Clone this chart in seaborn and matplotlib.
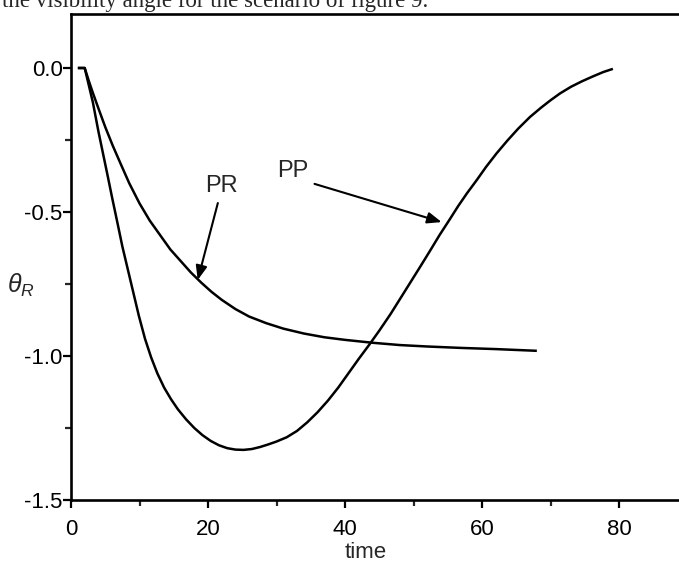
import numpy as np
import pandas as pd
import matplotlib
matplotlib.use("Agg")
import matplotlib.pyplot as plt
import seaborn as sns
from matplotlib.ticker import FixedLocator, FuncFormatter

# ---- data ----
pr_time = [1.0, 2.0, 2.6, 3.2, 4.0, 5.0, 6.1, 7.2, 8.5, 10.0, 11.5, 13.0,
           14.5, 16.0, 17.5, 19.0, 20.5, 22.0, 24.0, 26.0, 28.5, 31.0, 34.0,
           37.0, 40.0, 44.0, 48.0, 52.0, 57.0, 62.0, 68.0]
pr_theta = [0.0, 0.0, -0.045, -0.087, -0.14, -0.205, -0.27, -0.33, -0.40,
            -0.47, -0.53, -0.58, -0.63, -0.67, -0.71, -0.745, -0.777, -0.805,
            -0.837, -0.863, -0.886, -0.905, -0.922, -0.935, -0.944, -0.954,
            -0.962, -0.967, -0.972, -0.976, -0.982]

pp_time = [1.0, 2.0, 2.6, 3.2, 4.0, 4.7, 5.4, 6.0, 6.8, 7.5, 8.3, 9.0, 9.9,
           10.8, 11.7, 12.6, 13.6, 14.6, 15.6, 16.8, 18.0, 19.2, 20.4, 21.6,
           22.8, 24.0, 25.2, 26.4, 27.6, 28.8, 30.0, 31.5, 33.0, 34.5, 36.0,
           37.5, 39.0, 40.5, 42.0, 43.5, 45.0, 46.6, 48.0, 49.5, 51.0, 52.4,
           53.8, 55.3, 56.5, 57.8, 59.2, 60.6, 62.1, 63.7, 65.3, 67.0, 68.6,
           70.0, 71.4, 73.0, 74.6, 76.2, 77.7, 79.1]
pp_theta = [0.0, 0.0, -0.06, -0.12, -0.22, -0.30, -0.38, -0.45, -0.54, -0.62,
            -0.70, -0.77, -0.86, -0.94, -1.005, -1.06, -1.11, -1.15, -1.185,
            -1.22, -1.25, -1.275, -1.295, -1.31, -1.32, -1.325, -1.326,
            -1.323, -1.316, -1.307, -1.297, -1.282, -1.26, -1.23, -1.195,
            -1.155, -1.11, -1.06, -1.01, -0.962, -0.912, -0.856, -0.803,
            -0.746, -0.689, -0.635, -0.58, -0.525, -0.48, -0.435, -0.39,
            -0.343, -0.297, -0.252, -0.21, -0.17, -0.138, -0.112, -0.088,
            -0.065, -0.046, -0.029, -0.014, -0.003]

x_major = [0, 20, 40, 60, 80]
x_minor = [10, 30, 50, 70]
y_major = [0.0, -0.5, -1.0, -1.5]
y_minor = [-0.25, -0.75, -1.25]

df = pd.concat([
    pd.DataFrame({"time": pr_time, "theta": pr_theta, "curve": "PR"}),
    pd.DataFrame({"time": pp_time, "theta": pp_theta, "curve": "PP"}),
], ignore_index=True)

sns.set_style("ticks")
plt.rcParams["font.family"] = ["Liberation Sans", "DejaVu Sans"]
plt.rcParams["axes.unicode_minus"] = False
plt.rcParams["mathtext.fontset"] = "custom"
plt.rcParams["mathtext.it"] = "Liberation Sans:italic"
plt.rcParams["mathtext.rm"] = "Liberation Sans"

W, H = 679, 565
fig = plt.figure(figsize=(W / 100, H / 100), dpi=100)
ax = fig.add_axes([71 / W, 65 / H, (W - 71) / W, 486 / H])

sns.lineplot(data=df, x="time", y="theta", hue="curve", units="curve",
             estimator=None, sort=False, palette={"PR": "black", "PP": "black"},
             linewidth=1.8, legend=False, ax=ax)
for ln in ax.get_lines():
    ln.set_solid_joinstyle("round")
    ln.set_solid_capstyle("butt")

ax.set_xlim(0, 88.75)
ax.set_ylim(-1.5, 0.1875)
ax.xaxis.set_major_locator(FixedLocator(x_major))
ax.xaxis.set_minor_locator(FixedLocator(x_minor))
ax.yaxis.set_major_locator(FixedLocator(y_major))
ax.yaxis.set_minor_locator(FixedLocator(y_minor))
ax.yaxis.set_major_formatter(FuncFormatter(lambda v, p: f"{v:.1f}"))
ax.xaxis.set_major_formatter(FuncFormatter(lambda v, p: f"{v:.0f}"))

for s in ["left", "bottom", "top"]:
    ax.spines[s].set_linewidth(1.9)
    ax.spines[s].set_color("black")
ax.spines["right"].set_visible(False)

ax.tick_params(axis="both", which="major", direction="out", length=6,
               width=1.6, labelsize=16, colors="black")
ax.tick_params(axis="both", which="minor", direction="out", length=4,
               width=1.6)
ax.tick_params(axis="x", which="major", pad=8)
ax.tick_params(axis="y", which="major", pad=0)
ax.tick_params(top=False, right=False, which="both")
ax.set_xlabel("")
ax.set_ylabel("")

fig.text(21 / W, 1 - 285 / H, r"$\theta_R$", fontsize=18, ha="center",
         va="center")
fig.text(366 / W, 1 - 552 / H, "time", fontsize=16, ha="center", va="center")

arrow = dict(arrowstyle="-|>,head_length=0.5,head_width=0.2", color="black",
             lw=1.5, shrinkA=2, shrinkB=0)
ax.annotate("PR", xy=(18.5, -0.736), xytext=(21.9, -0.41), fontsize=17,
            ha="center", va="center",
            arrowprops=dict(arrow, relpos=(0.45, 0.0)))
ax.annotate("PP", xy=(54.1, -0.535), xytext=(32.4, -0.358), fontsize=17,
            ha="center", va="center",
            arrowprops=dict(arrow, relpos=(1.0, 0.0)))

fig.text(2 / W, 1 - 7 / H,
         "the visibility angle for the scenario of figure 9.",
         family=["Liberation Serif", "DejaVu Serif"], fontsize=16.5,
         ha="left", va="baseline")

fig.savefig("out.png", dpi=100)
